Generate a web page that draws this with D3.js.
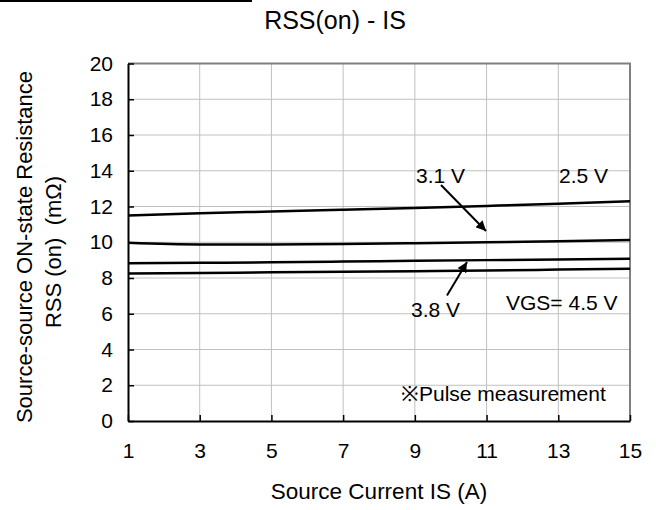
<!DOCTYPE html>
<html>
<head>
<meta charset="utf-8">
<script src="https://cdn.jsdelivr.net/npm/d3@7"></script>
<style>
  body { margin: 0; background: #fff; }
  svg { display: block; font-family: "Liberation Sans", Arial, sans-serif; }
</style>
</head>
<body>
<svg id="chart" width="656" height="510"></svg>
<script>
const title = "RSS(on) - IS";
const xLabel = "Source Current IS (A)";
const yLabel1 = "Source-source ON-state Resistance";
const yLabel2 = "RSS (on)  (mΩ)";
const xTicks = [1, 3, 5, 7, 9, 11, 13, 15];
const yTicks = [0, 2, 4, 6, 8, 10, 12, 14, 16, 18, 20];
const currents = [1, 3, 5, 7, 9, 11, 13, 15];
const seriesNames = ["2.5 V", "3.1 V", "3.8 V", "4.5 V"];
const r25 = [11.5, 11.62, 11.72, 11.82, 11.92, 12.03, 12.15, 12.3];
const r31 = [9.97, 9.88, 9.88, 9.9, 9.95, 10.0, 10.06, 10.13];
const r38 = [8.82, 8.85, 8.88, 8.92, 8.96, 9.0, 9.04, 9.08];
const r45 = [8.25, 8.28, 8.32, 8.35, 8.38, 8.42, 8.47, 8.52];
const series = [r25, r31, r38, r45];

(function () {
const svg = d3.select("#chart");
const pL = 128, pR = 630, pT = 63.5, pB = 421;
const x = d3.scaleLinear().domain([1, 15]).range([pL, pR]);
const y = d3.scaleLinear().domain([0, 20]).range([pB, pT]);
const fs = 21, fsLab = 22.5, fsTitle = 25;

// top-left cut text remnant
svg.append("line").attr("x1", 0).attr("x2", 252).attr("y1", 1).attr("y2", 1)
  .attr("stroke", "#000").attr("stroke-width", 2);
svg.append("text").attr("x", 52).attr("y", -3).attr("font-size", fs).text("(");
svg.append("text").attr("x", 236).attr("y", -3).attr("font-size", fs).text(")");

// gridlines
const g = svg.append("g");
g.selectAll(".gx").data(xTicks.slice(1, -1)).enter().append("line")
  .attr("x1", d => x(d)).attr("x2", d => x(d)).attr("y1", pT).attr("y2", pB)
  .attr("stroke", "#c0c0c0").attr("stroke-width", 1);
g.selectAll(".gy").data(yTicks.slice(1, -1)).enter().append("line")
  .attr("x1", pL).attr("x2", pR).attr("y1", d => y(d)).attr("y2", d => y(d))
  .attr("stroke", "#c0c0c0").attr("stroke-width", 1);

// top and right border
svg.append("line").attr("x1", pL).attr("x2", pR + 1).attr("y1", pT).attr("y2", pT)
  .attr("stroke", "#808080").attr("stroke-width", 2);
svg.append("line").attr("x1", pR).attr("x2", pR).attr("y1", pT).attr("y2", pB)
  .attr("stroke", "#808080").attr("stroke-width", 2);

// axes
const xAxis = d3.axisBottom(x).tickValues(xTicks).tickSize(-6).tickPadding(22).tickSizeOuter(0);
const yAxis = d3.axisLeft(y).tickValues(yTicks).tickSize(-6).tickPadding(15).tickSizeOuter(0);
const gx = svg.append("g").attr("transform", `translate(0,${pB})`).call(xAxis);
const gy = svg.append("g").attr("transform", `translate(${pL},0)`).call(yAxis);
[gx, gy].forEach(a => {
  a.select(".domain").attr("stroke", "#000").attr("stroke-width", 2);
  a.selectAll(".tick line").attr("stroke", "#000").attr("stroke-width", 1.5);
  a.selectAll(".tick text").attr("font-size", fs).attr("fill", "#000")
    .attr("font-family", "Liberation Sans, Arial, sans-serif");
});

// lines
const line = d3.line().x((d, i) => x(currents[i])).y(d => y(d)).curve(d3.curveMonotoneX);
svg.selectAll(".series").data(series).enter().append("path")
  .attr("d", d => line(d)).attr("fill", "none").attr("stroke", "#000").attr("stroke-width", 2.5);

// title and axis labels
svg.append("text").attr("x", 335).attr("y", 29).attr("text-anchor", "middle")
  .attr("font-size", fsTitle).text(title);
svg.append("text").attr("x", x(8)).attr("y", 499).attr("text-anchor", "middle")
  .attr("font-size", fsLab).text(xLabel);
svg.append("text").attr("transform", "translate(32,247) rotate(-90)").attr("text-anchor", "middle")
  .attr("font-size", 22).text(yLabel1);
svg.append("text").attr("transform", "translate(60.5,252) rotate(-90)").attr("text-anchor", "middle")
  .attr("font-size", 22).style("white-space", "pre").text(yLabel2);

// annotations
svg.append("defs").append("marker").attr("id", "ah").attr("viewBox", "0 0 10 10")
  .attr("refX", 10).attr("refY", 5).attr("markerWidth", 5).attr("markerHeight", 5)
  .attr("markerUnits", "strokeWidth").attr("orient", "auto")
  .append("path").attr("d", "M0,0 L10,5 L0,10 z").attr("fill", "#000");

svg.append("text").attr("x", 416).attr("y", 183).attr("font-size", fs).text(seriesNames[1]);
svg.append("text").attr("x", 559).attr("y", 183).attr("font-size", fs).text(seriesNames[0]);
svg.append("text").attr("x", 411).attr("y", 317).attr("font-size", fs).text(seriesNames[2]);
svg.append("text").attr("x", 506).attr("y", 310).attr("font-size", fs).text("VGS= " + seriesNames[3]);
svg.append("text").attr("x", 401).attr("y", 401).attr("font-size", fs).text("※Pulse measurement");

svg.append("line").attr("x1", 441).attr("y1", 185).attr("x2", 486).attr("y2", 231)
  .attr("stroke", "#000").attr("stroke-width", 2).attr("marker-end", "url(#ah)");
svg.append("line").attr("x1", 447).attr("y1", 295.5).attr("x2", 467).attr("y2", 262)
  .attr("stroke", "#000").attr("stroke-width", 2).attr("marker-end", "url(#ah)");
})();
</script>
</body>
</html>
